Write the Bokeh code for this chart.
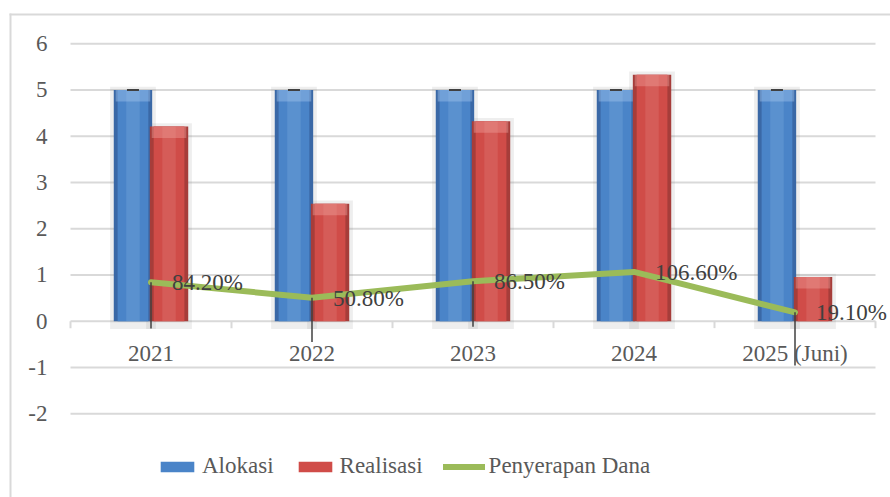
from bokeh.plotting import figure
from bokeh.models import (ColumnDataSource, Range1d, LabelSet, Legend, LegendItem,
                          BoxAnnotation)
from bokeh.embed import file_html
from bokeh.resources import INLINE

# ---- data ----
categories = ["2021", "2022", "2023", "2024", "2025 (Juni)"]
alokasi = [5, 5, 5, 5, 5]
realisasi = [4.21, 2.54, 4.325, 5.33, 0.955]
penyerapan = [0.842, 0.508, 0.865, 1.066, 0.191]
penyerapan_labels = ["84.20%", "50.80%", "86.50%", "106.60%", "19.10%"]
err_low = [-0.16, -0.45, -0.12, float("nan"), -0.96]
y_ticks = [-2, -1, 0, 1, 2, 3, 4, 5, 6]

FONT = "Liberation Serif"
FS = "23px"
TXT = "#595959"
GRID = "#d9d9d9"

n = len(categories)
idx = list(range(n))
W = 0.2385          # bar width (fraction of a category)
OFF = 0.112         # bar offset from category centre

src = ColumnDataSource(dict(
    x=idx, xa=[i - OFF for i in idx], xr=[i + OFF for i in idx],
    cat=categories, alokasi=alokasi, realisasi=realisasi,
    pct=penyerapan, lbl=penyerapan_labels, err=err_low,
    aloc_shadow=[a + 0.07 for a in alokasi],
    real_shadow=[r + 0.07 for r in realisasi],
    aloc_cap=[a - 0.25 for a in alokasi],
    real_cap=[r - 0.25 for r in realisasi],
    cat_y=[-0.865] * n,
))
bounds = ColumnDataSource(dict(x=[i - 0.5 for i in range(n + 1)]))
grid_src = ColumnDataSource(dict(y=y_ticks, lbl=[str(t) for t in y_ticks]))

# geometry of the plot in pixels (category pitch 161 px, 46.25 px per unit)
PX_CAT, PX_UNIT = 161.0, 46.25
CW, CH = 890, 497
X0_PX, Y0_PX = 150.5, 320.7          # pixel position of first category centre / y=0
x_range = Range1d(-X0_PX / PX_CAT, (CW - X0_PX) / PX_CAT)
y_range = Range1d(-(CH - Y0_PX) / PX_UNIT, Y0_PX / PX_UNIT)

p = figure(width=CW, height=CH, x_range=x_range, y_range=y_range,
           x_axis_location=None, y_axis_location=None,
           output_backend="svg", toolbar_location=None,
           min_border=0)
p.outline_line_color = None
p.grid.visible = False

# outer chart border: thin filled strips (screen y measured from the bottom)
for l, r, t, b in ((9, 11, CH - 13, -10), (9, CW + 10, CH - 13, CH - 15)):
    p.add_layout(BoxAnnotation(left=l, right=r, top=t, bottom=b,
                               left_units="screen", right_units="screen",
                               top_units="screen", bottom_units="screen",
                               fill_color=GRID, fill_alpha=1, line_color=None))

# horizontal gridlines, spanning the category area
p.segment(x0=-0.5, x1=n - 0.5, y0="y", y1="y", source=grid_src,
          line_color=GRID, line_width=2)
# y tick labels
p.add_layout(LabelSet(x=47, x_units="screen", y="y", text="lbl", source=grid_src,
                      text_align="right", text_baseline="middle",
                      text_font=FONT, text_font_size=FS, text_color=TXT))
# category boundary ticks under the zero line
p.segment(x0="x", x1="x", y0=0, y1=-0.15, source=bounds,
          line_color=GRID, line_width=2)

# bar shadows
for xc, topc in (("xa", "aloc_shadow"), ("xr", "real_shadow")):
    p.vbar(x=xc, top=topc, bottom=-0.17, width=W + 0.045, source=src,
           fill_color="#7f7f7f", fill_alpha=0.13, line_color=None)

def bar(xc, col, capcol, edge, mid, light):
    p.vbar(x=xc, top=col, bottom=0, width=W, source=src,
           fill_color=edge, line_color=None)
    r = p.vbar(x=xc, top=col, bottom=0, width=W * 0.8, source=src,
               fill_color=mid, line_color=None)
    p.vbar(x=xc, top=col, bottom=0, width=W * 0.35, source=src,
           fill_color=light, fill_alpha=0.18, line_color=None)
    p.vbar(x=xc, top=col, bottom=capcol, width=W * 0.9, source=src,
           fill_color=light, fill_alpha=0.4, line_color=None)
    return r

r_a = bar("xa", "alokasi", "aloc_cap", "#3a68a6", "#4a84c8", "#a9cbf0")
r_r = bar("xr", "realisasi", "real_cap", "#a63d3a", "#d04c48", "#f0a4a0")

# caps on top of Alokasi bars
p.rect(x="xa", y="alokasi", width=12, height=2, width_units="screen",
       height_units="screen", source=src, fill_color="#404040", line_color=None)

# Penyerapan Dana line
r_l = p.line(x="x", y="pct", source=src, line_color="#9bbb59", line_width=6,
             line_join="round", line_cap="round")

# vertical drop lines
p.segment(x0="x", y0="pct", x1="x", y1="err", source=src,
          line_color="#404040", line_width=1.5)

# category labels
p.add_layout(LabelSet(x="x", y="cat_y", text="cat", source=src,
                      text_align="center", text_baseline="alphabetic",
                      text_font=FONT, text_font_size=FS, text_color=TXT))
# data labels
p.add_layout(LabelSet(x="x", y="pct", text="lbl", source=src,
                      x_offset=21, y_offset=-8, text_align="left",
                      text_baseline="alphabetic", text_font=FONT,
                      text_font_size=FS, text_color="#404040"))

legend = Legend(items=[LegendItem(label="Alokasi", renderers=[r_a]),
                       LegendItem(label="Realisasi", renderers=[r_r]),
                       LegendItem(label="Penyerapan Dana", renderers=[r_l])],
                orientation="horizontal", location=(156, 18),
                glyph_width=42, glyph_height=13, label_standoff=4, spacing=20,
                padding=0, margin=0, border_line_color=None,
                background_fill_alpha=0,
                label_text_font=FONT, label_text_font_size=FS,
                label_text_color=TXT)
p.add_layout(legend, "center")

open("out.html", "w").write(file_html(p, INLINE))
